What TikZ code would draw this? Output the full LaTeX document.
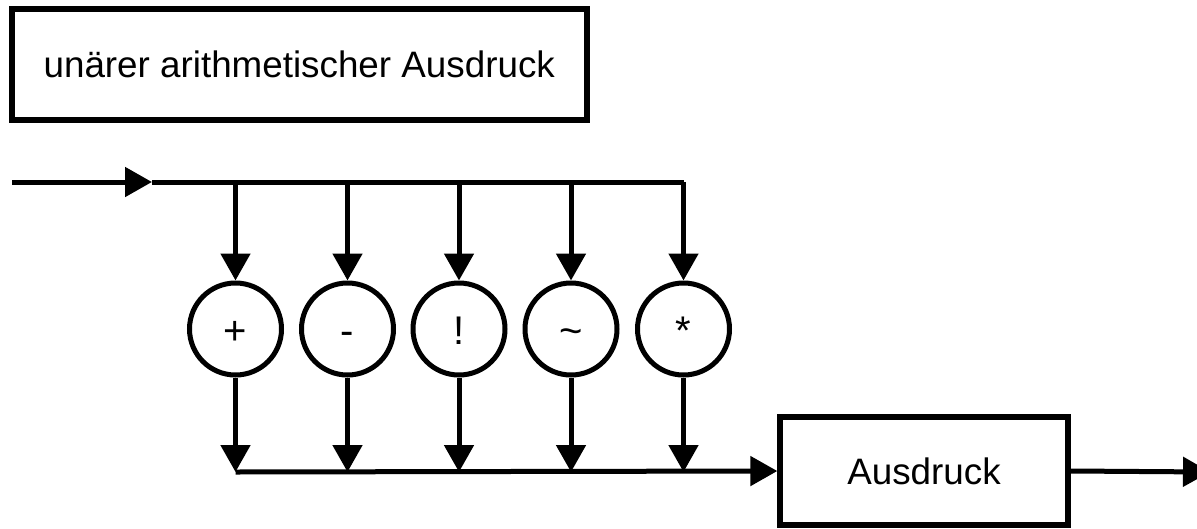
\documentclass[tikz,border=0pt]{standalone}
\usepackage{fontspec}
\setmainfont{Liberation Sans}
\usetikzlibrary{arrows.meta}
\begin{document}
\begin{tikzpicture}[x=1pt,y=-1pt,
  wire/.style={line width=5pt},
  flow/.style={wire,-{Triangle[length=27pt,width=29pt]}},
  op/.style={circle,draw,line width=5pt,minimum size=92pt,inner sep=0pt,
    font=\fontsize{40}{48}\selectfont,text height=30pt,text depth=0pt},
  block/.style={draw,rectangle,inner sep=0pt,font=\fontsize{36.8}{44}\selectfont}]
\clip (0,0) rectangle (1197,528);

% title block
\node[block,line width=6pt,minimum width=575.5pt,minimum height=111pt]
  (title) at (299.25,64.5) {unärer arithmetischer Ausdruck};

% operand block
\node[block,line width=5.3pt,minimum width=288pt,minimum height=108pt]
  (ausd) at (924,471) {Ausdruck};

% operator circles
\node[op] (c1) at (235.5,329) {+};
\node[op] (c2) at (347.5,329) {-};
\node[op] (c3) at (459,329) {!};
\node[op] (c4) at (571,329) {\textasciitilde};
\node[op] (c5) at (683.5,329) {*};

% rail points
\coordinate (in) at (12,182);
\coordinate (ah) at (152,182);
\coordinate (t1) at (235.5,182);
\coordinate (t2) at (347.5,182);
\coordinate (t3) at (459,182);
\coordinate (t4) at (571,182);
\coordinate (t5) at (683.5,182);
\coordinate (b1) at (235.5,472);
\coordinate (b2) at (347.5,472);
\coordinate (b3) at (459,472);
\coordinate (b4) at (571,472);
\coordinate (b5) at (683.5,472);
\coordinate (out) at (1210,472);

% upper rail
\draw[flow] (in) -- (ah);
\draw[wire] (ah) -- (t5);
\foreach \i in {1,...,5} {
  \draw[flow] (t\i) -- (c\i.north);
  \draw[flow] (c\i.south) -- (b\i);
}

% lower rail
\draw[flow] (b1) -- (ausd.west);
\draw[flow] (ausd.east) -- (out);
\end{tikzpicture}
\end{document}
